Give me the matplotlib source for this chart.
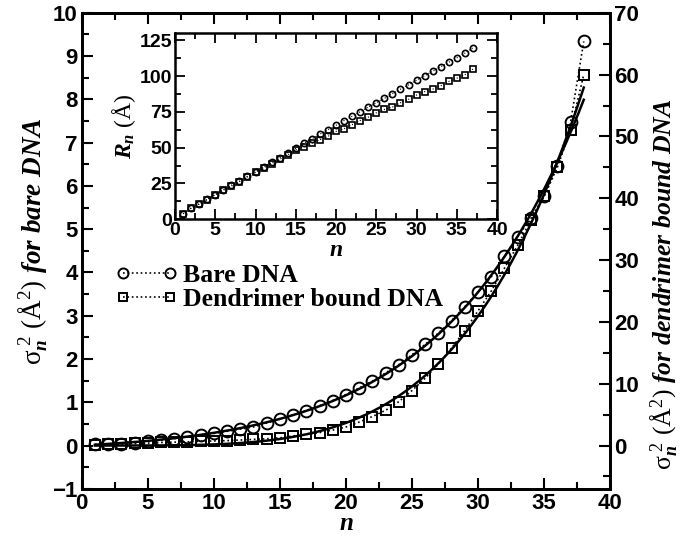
import numpy as np
import matplotlib
matplotlib.use('Agg')
import matplotlib.pyplot as plt
from matplotlib.ticker import MultipleLocator

plt.rcParams['font.family'] = ['Liberation Sans', 'DejaVu Sans']
plt.rcParams['mathtext.fontset'] = 'custom'
plt.rcParams['mathtext.rm'] = 'Liberation Serif'
plt.rcParams['mathtext.it'] = 'Liberation Serif:italic:bold'
plt.rcParams['mathtext.bf'] = 'Liberation Serif:bold'

# main plot: sigma_n^2 vs n
n = np.arange(1, 39)
sig_bare = [0.03, 0.03, 0.04, 0.07, 0.10, 0.12, 0.16, 0.20, 0.24, 0.28,
            0.33, 0.38, 0.43, 0.52, 0.61, 0.71, 0.81, 0.92, 1.04, 1.18,
            1.33, 1.49, 1.68, 1.87, 2.10, 2.34, 2.60, 2.89, 3.21, 3.55,
            3.90, 4.38, 4.83, 5.25, 5.77, 6.47, 7.47, 9.34]
sig_dend = [0.1, 0.2, 0.3, 0.35, 0.4, 0.5, 0.55, 0.6, 0.7, 0.75,
            0.8, 0.9, 1.0, 1.1, 1.25, 1.55, 1.8, 2.1, 2.5, 3.0,
            3.8, 4.7, 5.7, 7.1, 8.9, 10.9, 13.2, 15.8, 18.6, 21.8,
            25.0, 28.7, 32.4, 36.5, 40.3, 45.0, 51.0, 60.0]

# inset: R_n vs n
n_in = np.arange(1, 38)
R_bare = [3.8, 7.8, 10.8, 13.9, 17.2, 20.7, 23.8, 26.6, 30.1, 33.2,
          36.7, 39.7, 43.0, 46.5, 49.6, 53.2, 56.2, 59.5, 62.6, 65.7,
          69.0, 72.0, 75.1, 78.4, 81.4, 84.5, 87.8, 90.9, 93.9, 97.2,
          100.3, 103.4, 106.6, 109.7, 112.8, 116.1, 119.8]
R_dend = [3.8, 7.6, 10.4, 13.7, 17.2, 20.2, 23.1, 26.2, 29.6, 32.7,
          36.0, 38.8, 41.9, 44.9, 48.5, 50.8, 53.2, 55.5, 57.9, 61.4,
          63.3, 66.1, 69.0, 71.3, 74.4, 76.7, 78.4, 81.4, 83.8, 86.8,
          89.2, 90.9, 93.2, 96.3, 98.6, 101.0, 105.0]


def growth_fit(x, y):
    # least squares fit of a * x**p * exp(b*x), scanning p and b
    x = np.asarray(x, float)
    y = np.asarray(y, float)
    best = None
    for p in np.arange(0, 6.01, 0.05):
        for b in np.arange(0, 0.3, 0.0025):
            g = x ** p * np.exp(b * x)
            a = np.dot(g, y) / np.dot(g, g)
            err = np.sum((a * g - y) ** 2)
            if best is None or err < best[0]:
                best = (err, a, p, b)
    _, a, p, b = best
    return lambda t: a * t ** p * np.exp(b * t)


fig = plt.figure(figsize=(6.81, 5.36), dpi=100)
ax = fig.add_axes([0.120, 0.088, 0.776, 0.888])
ax2 = ax.twinx()

# fit on all but the last point
fit_bare = growth_fit(n[:-1], sig_bare[:-1])
fit_dend = growth_fit(n[:-1], sig_dend[:-1])
nf = np.linspace(1, 38, 300)
ax.plot(n, sig_bare, ls=':', color='k', lw=1.2, marker='o', ms=8.5,
        mfc='none', mec='k', mew=1.4, label='Bare DNA')
ax.plot(nf, fit_bare(nf), color='k', lw=1.8)
ax2.plot(n, sig_dend, ls=':', color='k', lw=1.2, marker='s', ms=7.5,
         mfc='none', mec='k', mew=1.4, label='Dendrimer bound DNA')
ax2.plot(nf, fit_dend(nf), color='k', lw=1.8)

ax.set_xlim(0, 40)
ax.set_ylim(-1, 10)
ax2.set_ylim(-7, 70)
ax.xaxis.set_major_locator(MultipleLocator(5))
ax.xaxis.set_minor_locator(MultipleLocator(2.5))
ax.yaxis.set_major_locator(MultipleLocator(1))
ax.yaxis.set_minor_locator(MultipleLocator(0.5))
ax2.yaxis.set_major_locator(MultipleLocator(10))
ax2.yaxis.set_minor_locator(MultipleLocator(5))

for a in (ax, ax2):
    for s in a.spines.values():
        s.set_linewidth(2)
ax.tick_params(which='both', direction='in', top=True, right=False, width=1.5, pad=3)
ax.tick_params(which='major', length=8)
ax.tick_params(which='minor', length=5)
ax2.tick_params(which='both', direction='in', width=1.5, pad=3)
ax2.tick_params(which='major', length=8)
ax2.tick_params(which='minor', length=5)
for lbl in ax.get_xticklabels() + ax.get_yticklabels() + ax2.get_yticklabels():
    lbl.set_fontsize(16)
    lbl.set_fontweight('bold')

ax.set_xlabel('$n$', fontsize=18, labelpad=-2)
ax.set_ylabel(r'$\mathrm{\sigma}_n^{\ 2}\ \mathrm{(\AA^{2})}\ for\ bare\ DNA$', fontsize=19.5)
ax.yaxis.set_label_coords(-0.06, 0.52)
ax2.set_ylabel(r'$\mathrm{\sigma}_n^{\ 2}\ \mathrm{(\AA^{2})}\ for\ dendrimer\ bound\ DNA$',
               fontsize=18.5)
ax2.yaxis.set_label_coords(1.072, 0.43)

h1, l1 = ax.get_legend_handles_labels()
h2, l2 = ax2.get_legend_handles_labels()
leg = ax.legend(h1 + h2, l1 + l2, loc='upper left', bbox_to_anchor=(0.045, 0.495),
                frameon=False, numpoints=2, handlelength=2.4, handletextpad=0.2,
                labelspacing=0.05, borderaxespad=0, markerscale=0.85,
                prop=dict(family='Liberation Serif', size=18.5, weight='bold'))
leg.set_zorder(5)

# inset
axi = fig.add_axes([0.257, 0.591, 0.473, 0.347])
axi.plot(n_in, R_bare, ls=':', color='k', lw=0.8, marker='o', ms=4.5,
         mfc='none', mec='k', mew=1.2)
axi.plot(n_in, R_dend, ls=':', color='k', lw=0.8, marker='s', ms=4.0,
         mfc='none', mec='k', mew=1.2)
axi.set_xlim(0, 40)
axi.set_ylim(0, 130)
axi.xaxis.set_major_locator(MultipleLocator(5))
axi.xaxis.set_minor_locator(MultipleLocator(2.5))
axi.yaxis.set_major_locator(MultipleLocator(25))
axi.yaxis.set_minor_locator(MultipleLocator(12.5))
for s in axi.spines.values():
    s.set_linewidth(1.8)
axi.tick_params(which='both', direction='in', top=True, right=True, width=1.3, pad=2)
axi.tick_params(which='major', length=7)
axi.tick_params(which='minor', length=4)
for lbl in axi.get_xticklabels() + axi.get_yticklabels():
    lbl.set_fontsize(14)
    lbl.set_fontweight('bold')
axi.set_xlabel('$n$', fontsize=17, labelpad=0)
axi.set_ylabel(r'$R_n\ \mathrm{(\AA)}$', fontsize=17, labelpad=1)

fig.savefig('out.png', dpi=100)
